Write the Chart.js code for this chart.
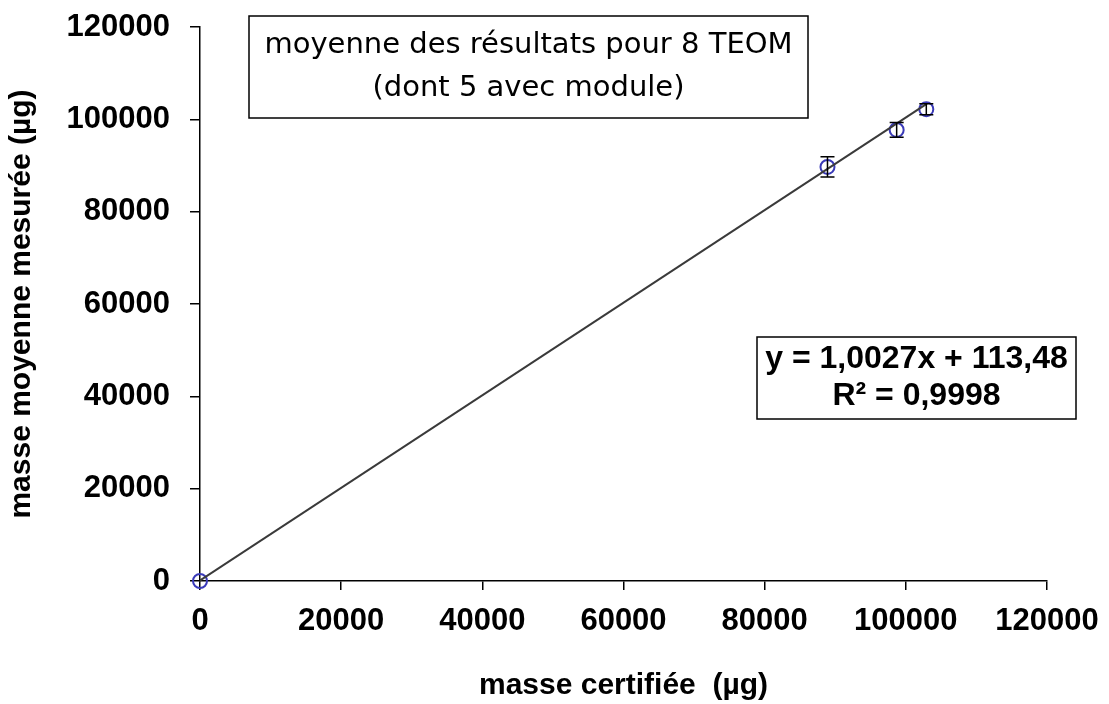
<!DOCTYPE html>
<html>
<head>
<meta charset="utf-8">
<script src="https://cdn.jsdelivr.net/npm/chart.js@4.4.1/dist/chart.umd.min.js"></script>
<style>
  body { margin: 0; background: #fff; }
  canvas { display: block; }
</style>
</head>
<body>
<canvas id="chart" width="1109" height="704"></canvas>
<script>
// ================= DATA =================

const certified = [0, 88900, 98700, 102900];
const measured = [0, 89700, 97700, 102200];
const errors = [0, 2200, 1600, 1200];

const xTicks = [0, 20000, 40000, 60000, 80000, 100000, 120000];
const yTicks = [0, 20000, 40000, 60000, 80000, 100000, 120000];

const slope = 1.0027;
const intercept = 113.48;
const r2 = "0,9998";
const trendX = [0, 103000];

const titleLines = ["moyenne des résultats pour 8 TEOM", "(dont 5 avec module)"];
const eqLines = ["y = 1,0027x + 113,48", "R² = " + r2];

// ================= PLUGINS =================

const errorBars = {
  id: "errorBars",
  afterDatasetsDraw(chart) {
    const { ctx, scales: { x, y } } = chart;
    ctx.save();
    ctx.strokeStyle = "#000";
    ctx.lineWidth = 1.5;
    certified.forEach((cx, i) => {
      if (!errors[i]) return;
      const px = x.getPixelForValue(cx);
      const top = y.getPixelForValue(measured[i] + errors[i]);
      const bot = y.getPixelForValue(measured[i] - errors[i]);
      ctx.beginPath();
      ctx.moveTo(px, top); ctx.lineTo(px, bot);
      ctx.moveTo(px - 7, top); ctx.lineTo(px + 7, top);
      ctx.moveTo(px - 7, bot); ctx.lineTo(px + 7, bot);
      ctx.stroke();
    });
    ctx.restore();
  }
};

function textBox(ctx, lines, font, box, lineGap) {
  ctx.save();
  ctx.fillStyle = "#fff";
  ctx.fillRect(box.x, box.y, box.w, box.h);
  ctx.strokeStyle = "#000";
  ctx.lineWidth = 1.5;
  ctx.strokeRect(box.x, box.y, box.w, box.h);
  ctx.fillStyle = "#000";
  ctx.font = font;
  ctx.textAlign = "center";
  ctx.textBaseline = "middle";
  const cx = box.x + box.w / 2;
  const start = box.y + box.h / 2 - (lines.length - 1) * lineGap / 2;
  lines.forEach((l, i) => ctx.fillText(l, cx, start + i * lineGap));
  ctx.restore();
}

const labels = {
  id: "labels",
  afterDraw(chart) {
    const ctx = chart.ctx;
    textBox(ctx, titleLines, "500 29px 'DejaVu Sans'", { x: 249, y: 16, w: 559, h: 102 }, 43);
    textBox(ctx, eqLines, "bold 32px 'Liberation Sans'", { x: 757, y: 337, w: 319, h: 82 }, 37);
  }
};

// ================= CHART =================

const tickFont = { family: "'Liberation Sans', Arial", size: 31, weight: "bold" };
const titleFont = { family: "'Liberation Sans', Arial", size: 30, weight: "bold" };

new Chart(document.getElementById("chart"), {
  type: "scatter",
  data: {
    datasets: [
      {
        type: "line",
        data: trendX.map(v => ({ x: v, y: slope * v + intercept })),
        borderColor: "#3a3a3a",
        borderWidth: 2,
        pointRadius: 0,
        fill: false
      },
      {
        data: certified.map((v, i) => ({ x: v, y: measured[i] })),
        clip: false,
        pointStyle: "circle",
        pointRadius: 7,
        pointBorderWidth: 2,
        pointBorderColor: "#3a3ab8",
        pointBackgroundColor: "rgba(0,0,0,0)"
      }
    ]
  },
  options: {
    responsive: false,
    animation: false,
    devicePixelRatio: 1,
    layout: { padding: { left: 0, right: 62, top: 27, bottom: 0 } },
    plugins: { legend: { display: false }, tooltip: { enabled: false } },
    scales: {
      x: {
        type: "linear",
        min: 0,
        max: 120000,
        afterBuildTicks: s => { s.ticks = xTicks.map(v => ({ value: v })); },
        afterFit: s => { s.height = 123; s.paddingLeft = 0; s.paddingRight = 0; },
        grid: { drawOnChartArea: false, drawTicks: true, tickLength: 9, color: "#000", lineWidth: 1.5 },
        border: { display: true, color: "#000", width: 1.5 },
        ticks: { color: "#000", font: tickFont, padding: 13, maxRotation: 0, callback: v => String(v) },
        title: { display: true, text: "masse certifiée  (µg)", color: "#000", font: titleFont, padding: { top: 0, bottom: 0 } }
      },
      y: {
        type: "linear",
        min: 0,
        max: 120000,
        afterBuildTicks: s => { s.ticks = yTicks.map(v => ({ value: v })); },
        afterFit: s => { s.width = 200; s.paddingTop = 0; s.paddingBottom = 0; },
        grid: { drawOnChartArea: false, drawTicks: true, tickLength: 10, color: "#000", lineWidth: 1.5 },
        border: { display: true, color: "#000", width: 1.5 },
        ticks: { color: "#000", font: tickFont, padding: 20, callback: v => String(v) },
        title: { display: true, text: "masse moyenne mesurée (µg)", color: "#000", font: titleFont, padding: { top: 4, bottom: 4 } }
      }
    }
  },
  plugins: [errorBars, labels]
});
</script>
</body>
</html>
